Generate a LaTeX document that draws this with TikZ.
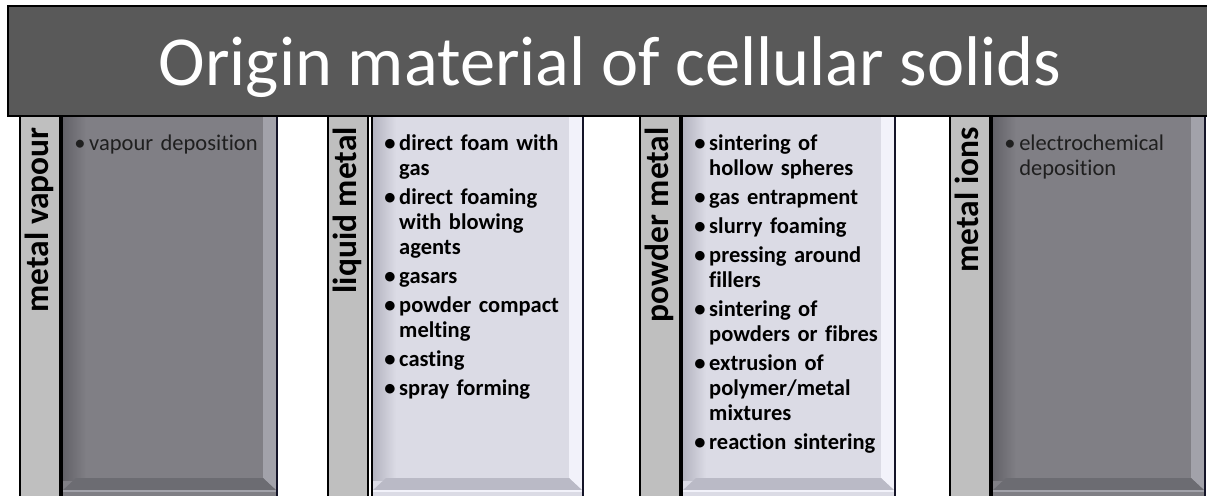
\documentclass[tikz,border=0pt]{standalone}
\usepackage{fontspec}
\setmainfont{Carlito}[Ligatures=NoCommon]
\usepackage{enumitem}
\usetikzlibrary{positioning}

\definecolor{titlegray}{RGB}{89,89,89}
\definecolor{labelgray}{RGB}{191,191,191}
\definecolor{darkfill}{RGB}{128,127,133}
\definecolor{darkedge}{RGB}{98,97,103}
\definecolor{darklight}{RGB}{162,162,170}
\definecolor{darkbottom}{RGB}{108,108,114}
\definecolor{lightfill}{RGB}{219,219,229}
\definecolor{lightedge}{RGB}{178,178,190}
\definecolor{lightlight}{RGB}{242,242,250}
\definecolor{lightbottom}{RGB}{186,186,198}
\definecolor{boxshadow}{RGB}{20,20,40}

\setlist[itemize]{label=\textbullet,leftmargin=8.5pt,labelsep=2.6pt,
  topsep=0pt,partopsep=0pt,parsep=0pt,itemsep=2.8pt}

% #1 left edge, #2 right edge, #3 colour set (dark or light)
\newcommand{\methodbox}[3]{%
  \fill[#3fill] (#1,116) rectangle (#2,498);
  \shade[left color=#3edge,right color=#3fill] (#1,116) rectangle ({#1+24},480);
  \fill[#3light] (#2,116) -- ({#2-14},116) -- ({#2-14},478) -- (#2,491) -- cycle;
  \fill[#3bottom] (#1,491) -- ({#1+14},478) -- ({#2-14},478) -- (#2,491) -- cycle;
  \draw[#3light,line width=0.8pt] (#1,491) -- (#2,491);
  \draw[line width=1.1pt] (#1,116) rectangle (#2,498);
  \draw[boxshadow,line width=1.8pt] (#2,116) -- (#2,498);
}

\begin{document}
\begin{tikzpicture}[x=0.025cm,y=-0.025cm,
  every node/.style={font=\fontsize{16}{17.8}\selectfont},
  headline/.style={text=white,inner sep=0pt,anchor=base,font=\fontsize{50}{58}\selectfont},
  sidelabel/.style={rotate=90,anchor=base east,inner sep=0pt,font=\bfseries\fontsize{23.8}{26}\selectfont},
  methods/.style={anchor=north west,inner sep=0pt,text width=5.2cm,align=left}]
\useasboundingbox (0,0) rectangle (1207,495);

% columns
\foreach \xl in {20,328,640,950}
  \draw[fill=labelgray,line width=1.1pt] (\xl,116) rectangle ({\xl+40},498);
\methodbox{62}{277}{dark}
\methodbox{372}{583}{light}
\methodbox{682}{895}{light}
\methodbox{992}{1205}{dark}

% title bar
\draw[fill=titlegray,line width=1.4pt] (8,6) rectangle (1214,116);
\node[headline] (title) at (610,85) {Origin material of cellular solids};

% side labels
\node[sidelabel] (vapour) at (48,127) {metal vapour};
\node[sidelabel] (liquid) at (356,127) {liquid metal};
\node[sidelabel] (powder) at (668,127) {powder metal};
\node[sidelabel] (ions) at (978,127) {metal ions};

% method lists
\node[methods,text=black!88] (vapourlist) at (77,125) {%
  \begin{itemize}
  \item vapour deposition
  \end{itemize}};
\node[methods,font=\bfseries\fontsize{16}{17.8}\selectfont] (liquidlist) at (387,125) {%
  \begin{itemize}
  \item direct foam with\\ gas
  \item direct foaming\\ with blowing\\ agents
  \item gasars
  \item powder compact\\ melting
  \item casting
  \item spray forming
  \end{itemize}};
\node[methods,font=\bfseries\fontsize{16}{17.8}\selectfont] (powderlist) at (697,125) {%
  \begin{itemize}
  \item sintering of\\ hollow spheres
  \item gas entrapment
  \item slurry foaming
  \item pressing around\\ fillers
  \item sintering of\\ powders or fibres
  \item extrusion of\\ polymer/metal\\ mixtures
  \item reaction sintering
  \end{itemize}};
\node[methods,text=black!88] (ionslist) at (1007,125) {%
  \begin{itemize}
  \item electrochemical\\ deposition
  \end{itemize}};
\end{tikzpicture}
\end{document}
